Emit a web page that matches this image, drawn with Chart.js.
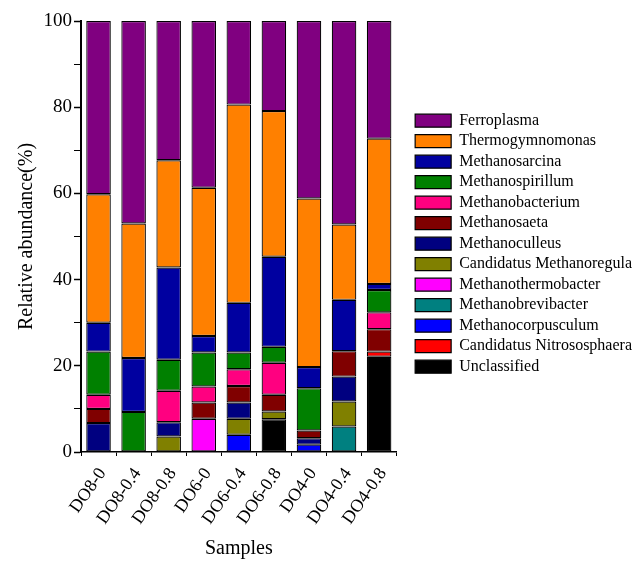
<!DOCTYPE html>
<html>
<head>
<meta charset="utf-8">
<script src="https://cdn.jsdelivr.net/npm/chart.js@4.4.0/dist/chart.umd.min.js"></script>
<style>
  body { margin: 0; background: #fff; }
  #wrap { width: 644px; height: 561px; }
</style>
</head>
<body>
<div id="wrap"><canvas id="grafico" width="644" height="561"></canvas></div>
<script>
// muestras (eje x)
const muestras = ['DO8-0', 'DO8-0.4', 'DO8-0.8', 'DO6-0', 'DO6-0.4', 'DO6-0.8', 'DO4-0', 'DO4-0.4', 'DO4-0.8'];

// abundancia relativa (%) por genero, de abajo hacia arriba en la pila
const unclassified        = [0, 0, 0, 0, 0, 7.6, 0, 0, 22.1];
const candNitrososphaera  = [0, 0, 0, 0, 0, 0, 0, 0, 1.2];
const methanocorpusculum  = [0, 0, 0, 0, 4.0, 0, 1.7, 0, 0];
const methanobrevibacter  = [0, 0, 0, 0, 0, 0, 0, 5.9, 0];
const methanothermobacter = [0, 0, 0, 7.7, 0, 0, 0, 0, 0];
const candMethanoregula   = [0, 0, 3.6, 0, 3.7, 1.8, 0, 5.8, 0];
const methanoculleus      = [6.7, 0, 3.3, 0, 3.8, 0, 1.5, 5.8, 0];
const methanosaeta        = [3.3, 0, 0, 3.8, 3.8, 3.9, 1.8, 5.9, 5.2];
const methanobacterium    = [3.3, 0, 7.3, 3.7, 3.9, 7.4, 0, 0, 3.9];
const methanospirillum    = [10.0, 9.3, 7.2, 7.9, 3.9, 3.7, 9.8, 0, 5.2];
const methanosarcina      = [6.7, 12.5, 21.4, 3.8, 11.5, 20.9, 4.9, 11.9, 1.4];
const thermogymnomonas    = [29.8, 31.2, 24.9, 34.4, 46.0, 33.8, 39.1, 17.5, 33.7];
const ferroplasma         = [40.2, 47.0, 32.3, 38.7, 19.4, 20.9, 41.2, 47.2, 27.3];

// ticks del eje y
const ticksY = [0, 20, 40, 60, 80, 100];

const series = [
  ['Unclassified', unclassified, '#000000'],
  ['Candidatus Nitrososphaera', candNitrososphaera, '#ff0000'],
  ['Methanocorpusculum', methanocorpusculum, '#0000ff'],
  ['Methanobrevibacter', methanobrevibacter, '#008080'],
  ['Methanothermobacter', methanothermobacter, '#ff00ff'],
  ['Candidatus Methanoregula', candMethanoregula, '#808000'],
  ['Methanoculleus', methanoculleus, '#000080'],
  ['Methanosaeta', methanosaeta, '#800000'],
  ['Methanobacterium', methanobacterium, '#ff0080'],
  ['Methanospirillum', methanospirillum, '#008000'],
  ['Methanosarcina', methanosarcina, '#0000a0'],
  ['Thermogymnomonas', thermogymnomonas, '#ff8000'],
  ['Ferroplasma', ferroplasma, '#800080']
];

Chart.defaults.font.family = "'Liberation Serif', 'Times New Roman', serif";
Chart.defaults.color = '#000';

new Chart(document.getElementById('grafico'), {
  type: 'bar',
  data: {
    labels: muestras,
    datasets: series.map(([nombre, valores, color]) => ({
      label: nombre,
      data: valores.map(v => v === 0 ? null : v),
      backgroundColor: color,
      borderColor: '#000',
      borderWidth: 1.2,
      borderSkipped: false,
      barPercentage: 0.7,
      categoryPercentage: 1
    }))
  },
  options: {
    responsive: false,
    animation: false,
    layout: { padding: { top: 21, left: 0, right: 2, bottom: 0 } },
    plugins: {
      tooltip: { enabled: false },
      legend: {
        position: 'right',
        fullSize: false,
        reverse: true,
        maxWidth: 250,
        title: { display: true, text: '', font: { size: 2 }, padding: { top: 12, bottom: 0 } },
        labels: {
          boxWidth: 36,
          boxHeight: 13,
          padding: 4.5,
          color: '#000',
          font: { size: 16 }
        }
      }
    },
    scales: {
      x: {
        stacked: true,
        grid: { display: true, drawOnChartArea: false, tickLength: 4, color: '#000' },
        border: { color: '#000', width: 1.5 },
        ticks: { minRotation: 55, maxRotation: 55, autoSkip: false, padding: 8, labelOffset: 4, font: { size: 18 } },
        title: { display: true, text: 'Samples', font: { size: 20 }, padding: { top: 0, bottom: 0 } },
        afterFit: axis => { axis.height = 109; }
      },
      y: {
        stacked: true,
        min: 0,
        max: 100,
        grid: {
          display: true,
          drawOnChartArea: false,
          tickLength: 7,
          color: '#000',
          tickWidth: ctx => (ticksY.includes(ctx.tick.value) ? 1.5 : 1)
        },
        border: { color: '#000', width: 2 },
        ticks: {
          stepSize: 10,
          autoSkip: false,
          padding: 2,
          font: { size: 19 },
          callback: v => (ticksY.includes(v) ? v : '')
        },
        title: { display: true, text: 'Relative abundance(%)', font: { size: 20 }, padding: { top: 15, bottom: 0 } },
        afterFit: axis => { axis.width = 81; }
      },
      hueco: {
        type: 'linear',
        position: 'right',
        display: true,
        grid: { display: false },
        ticks: { display: false },
        border: { display: false },
        afterFit: axis => { axis.width = 14; }
      }
    }
  }
});
</script>
</body>
</html>
